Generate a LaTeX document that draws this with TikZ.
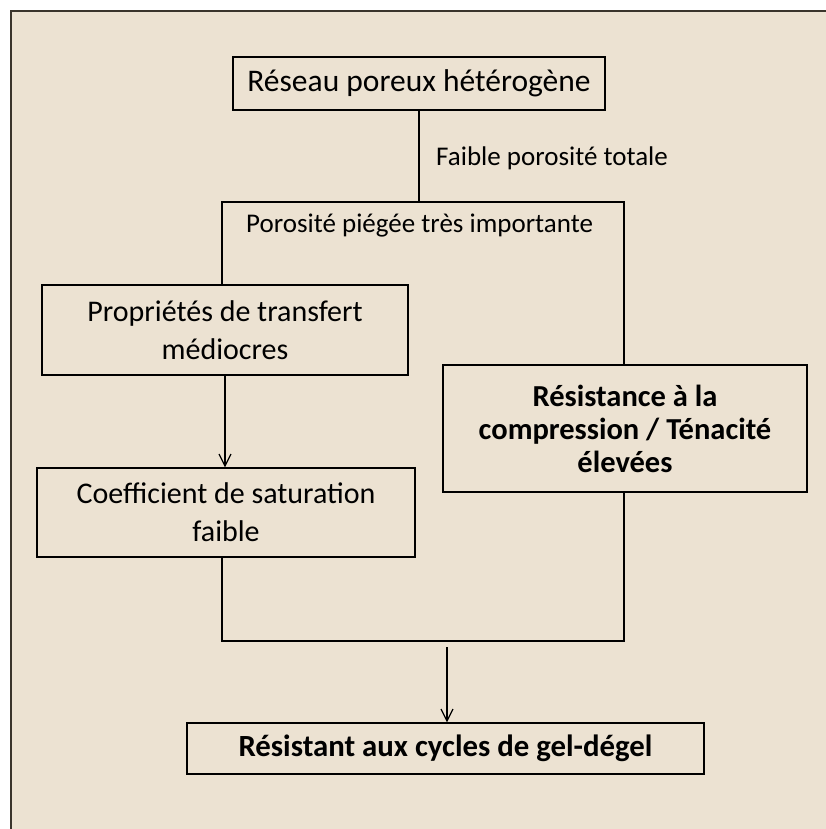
\documentclass[tikz,border=0pt]{standalone}
\usepackage{fontspec}
\setmainfont{Carlito}
\usepackage{tikz}
\usetikzlibrary{arrows.meta,positioning,calc}
\usepackage{xcolor}
\definecolor{parchment}{RGB}{236,226,210}
\definecolor{frameline}{RGB}{58,52,44}
\tikzset{
    box/.style={rectangle, draw=black, line width=1.3pt, align=center, inner sep=0pt, font=\fontsize{30}{38}\selectfont},
    boxB/.style={box, font=\fontsize{30.5}{33}\selectfont\bfseries},
    lbl/.style={inner sep=0pt, font=\fontsize{27}{32}\selectfont},
    link/.style={line width=1.3pt, black},
    arr/.style={link, -{Straight Barb[length=12pt,width=12pt,line width=1.2pt]}},
}

\begin{document}
\begin{tikzpicture}[x=1pt,y=-1pt]
    \useasboundingbox (0,0) rectangle (826,829);
    % fond
    \fill[white] (0,0) rectangle (826,829);
    \fill[parchment] (11,11) rectangle (826,829);
    \draw[frameline, line width=2.2pt] (11,829) -- (11,11) -- (826,11);

    % boites
    \node[box, minimum width=372, minimum height=53, font=\fontsize{31.5}{36}\selectfont] (reseau) at (419,83.5) {Réseau poreux hétérogène};
    \node[box, minimum width=366, minimum height=90] (prop) at (225,330) {Propriétés de transfert\\médiocres};
    \node[box, minimum width=378, minimum height=89] (coef) at (226,512.5) {Coefficient de saturation\\faible};
    \node[boxB, minimum width=364, minimum height=127] (resist) at (625,428.5) {Résistance à la\\compression / Ténacité\\élevées};
    \node[boxB, minimum width=517, minimum height=51, font=\fontsize{30.8}{36}\selectfont\bfseries] (gel) at (445.5,748.5) {Résistant aux cycles de gel-dégel};

    % cadre ouvert
    \coordinate (tl) at (222,202);
    \coordinate (tr) at (624,202);
    \coordinate (bl) at (222,641);
    \coordinate (br) at (624,641);
    \coordinate (out) at (447,647);

    % liaisons
    \draw[link] (reseau.south) -- (reseau.south |- tl);
    \node[lbl, anchor=west] (faible) at (436,158) {Faible porosité totale};
    \draw[link] (prop.north -| tl) -- (tl) -- (tr) -- (resist.north -| tr);
    \node[lbl, anchor=west] (piege) at (246,226) {Porosité piégée très importante};
    \draw[arr] (prop.south) -- (prop.south |- coef.north);
    \draw[link] (coef.south -| bl) -- (bl) -- (br) -- (resist.south -| br);
    \draw[arr] (out) -- (out |- gel.north);
\end{tikzpicture}
\end{document}
